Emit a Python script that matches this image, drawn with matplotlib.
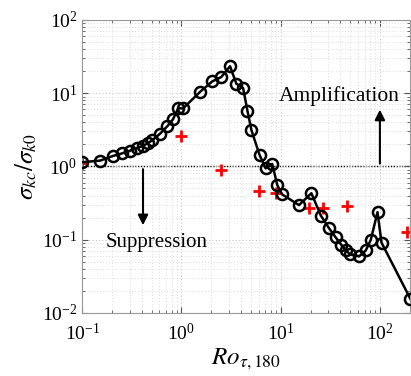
import matplotlib
matplotlib.use("Agg")
from matplotlib import pyplot as plt

# black circles: sigma_kc / sigma_k0 against Ro_tau,180
ro = [0.1, 0.152, 0.205, 0.254, 0.30, 0.356, 0.41, 0.46, 0.505, 0.61, 0.72, 0.82,
      0.93, 1.04, 1.55, 2.05, 2.52, 3.09, 3.58, 4.18, 4.63, 5.08, 6.12, 7.05, 8.22,
      9.25, 10.3, 15.3, 20.4, 25.4, 30.6, 35.7, 40.8, 45.2, 50.0, 61.7, 72.0, 80.9,
      94.6, 103.8, 203.0]
ratio = [1.14, 1.2, 1.39, 1.51, 1.63, 1.77, 1.91, 2.08, 2.26, 2.8, 3.53, 4.37,
         6.2, 6.2, 10.5, 14.5, 16.6, 23.3, 13.4, 11.8, 5.7, 3.11, 1.44, 0.94, 1.08,
         0.553, 0.416, 0.296, 0.43, 0.213, 0.144, 0.108, 0.085, 0.072, 0.063, 0.059,
         0.071, 0.099, 0.237, 0.091, 0.0155]

# red crosses
ro_red = [0.1, 1.0, 2.52, 6.0, 9.0, 19.5, 26.6, 46.9, 186.0]
ratio_red = [1.1, 2.57, 0.88, 0.46, 0.436, 0.271, 0.271, 0.286, 0.126]

plt.rcParams["mathtext.fontset"] = "stix"
plt.rcParams["font.family"] = "Liberation Serif"

fig = plt.figure(figsize=(4.11, 3.76), dpi=100)
ax = fig.add_axes([0.2, 0.168, 0.797, 0.779])

ax.plot(ro_red, ratio_red, "+", color="red", ms=8, mew=2, zorder=2)
ax.plot(ro, ratio, "-o", color="black", lw=1.8, ms=8, mew=1.8, mfc="none", zorder=3)
ax.axhline(1, color="black", ls=(0, (1, 1)), lw=1.0, zorder=1)

ax.annotate("", xy=(0.41, 0.144), xytext=(0.41, 1.0),
            arrowprops=dict(arrowstyle="-|>", color="black", lw=1.5, mutation_scale=15))
ax.annotate("", xy=(100, 6.5), xytext=(100, 1.0),
            arrowprops=dict(arrowstyle="-|>", color="black", lw=1.5, mutation_scale=15))
ax.text(39, 9.0, "Amplification", fontsize=15.5, ha="center", va="center")
ax.text(0.558, 0.091, "Suppression", fontsize=15, ha="center", va="center")

ax.set_xscale("log")
ax.set_yscale("log")
ax.set_xlim(0.1, 200)
ax.set_ylim(0.01, 100)
ax.grid(True, which="major", color="#c8c8c8", ls=(0, (1, 2)), lw=0.8)
ax.grid(True, which="minor", color="#dcdcdc", ls=(0, (1, 2)), lw=0.7)
ax.tick_params(which="both", direction="in", top=True, right=True, colors="#555555",
               labelcolor="black", labelsize=14)
ax.tick_params(which="major", length=4)
ax.tick_params(which="minor", length=2)
ax.tick_params(axis="x", which="major", pad=7)
for s in ax.spines.values():
    s.set_color("#999999")

ax.set_xlabel(r"$Ro_{\tau,180}$", fontsize=18, labelpad=2)
ax.set_ylabel(r"$\sigma_{kc}/\sigma_{k0}$", fontsize=18, labelpad=2)

fig.savefig("out.png", dpi=100)
